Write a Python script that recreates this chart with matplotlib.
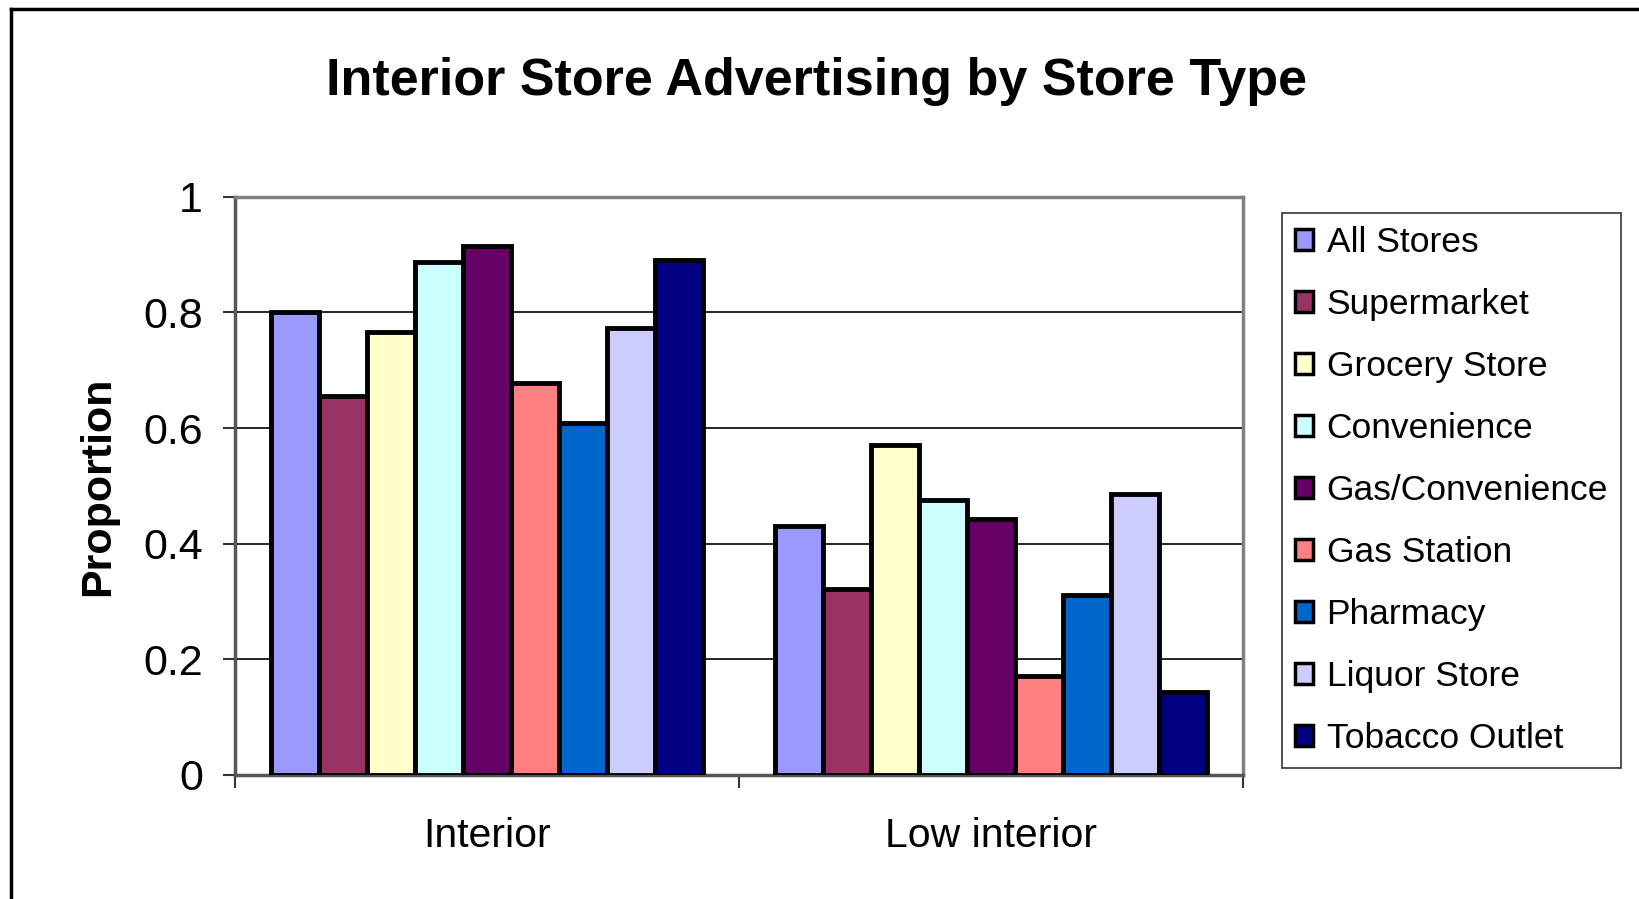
import matplotlib

matplotlib.use("Agg")

import matplotlib.pyplot as plt
from matplotlib.lines import Line2D
import numpy as np

plt.rcParams["font.family"] = ["Liberation Sans", "DejaVu Sans"]

categories = ["Interior", "Low interior"]
store_types = [
    "All Stores",
    "Supermarket",
    "Grocery Store",
    "Convenience",
    "Gas/Convenience",
    "Gas Station",
    "Pharmacy",
    "Liquor Store",
    "Tobacco Outlet",
]
interior = [0.80, 0.656, 0.767, 0.888, 0.915, 0.678, 0.609, 0.774, 0.891]
low_interior = [0.430, 0.322, 0.570, 0.476, 0.443, 0.172, 0.311, 0.486, 0.143]
colors = ["#9999FF", "#993366", "#FFFFCC", "#CCFFFF", "#660066",
          "#FF8080", "#0066CC", "#CCCCFF", "#000080"]
y_ticks = [0, 0.2, 0.4, 0.6, 0.8, 1.0]
y_tick_labels = ["0", "0.2", "0.4", "0.6", "0.8", "1"]

values = np.array([interior, low_interior])
n_series = len(store_types)
# bar width with a 150% gap between groups
width = 1.0 / (n_series + 1.5)
x = np.arange(len(categories))

fig = plt.figure(figsize=(16.4, 8.99), dpi=100)
ax = fig.add_axes([0.1433, 0.138, 0.6147, 0.643])

for i, (name, color) in enumerate(zip(store_types, colors)):
    offset = (i - (n_series - 1) / 2) * width
    ax.bar(x + offset, values[:, i], width, color=color, edgecolor="black",
           linewidth=3.5, label=name, zorder=3)

ax.set_xlim(-0.5, 1.5)
ax.set_ylim(0, 1)
ax.set_yticks(y_ticks)
ax.set_yticklabels(y_tick_labels, fontsize=31)
ax.yaxis.grid(True, color="black", linewidth=1.2, zorder=0)
ax.set_axisbelow(True)

ax.set_xticks([-0.5, 0.5, 1.5])
ax.set_xticklabels([])
ax.set_xticks(x, minor=True)
ax.set_xticklabels(categories, minor=True, fontsize=29.5)
ax.tick_params(axis="x", which="minor", length=0, pad=30)
ax.tick_params(axis="x", which="major", length=9, width=1.5, color="#333333")
ax.tick_params(axis="y", length=9, width=1.5, color="#333333", pad=14)

for side in ["top", "right"]:
    ax.spines[side].set_color("#808080")
    ax.spines[side].set_linewidth(2.5)
for side in ["left", "bottom"]:
    ax.spines[side].set_color("#555555")
    ax.spines[side].set_linewidth(2.5)

ax.set_ylabel("Proportion", fontsize=31, fontweight="bold")
ax.yaxis.set_label_coords(-0.116, 0.5)

fig.text(0.4976, 0.9095, "Interior Store Advertising by Store Type",
         ha="center", va="center", fontsize=37.5, fontweight="bold")

handles = [
    plt.Rectangle((0, 0), 1, 1, facecolor=c, edgecolor="black", linewidth=2.5)
    for c in colors
]
leg = fig.legend(handles, store_types, loc="upper left",
                 bbox_to_anchor=(0.7817, 0.763), fontsize=25.5, frameon=True,
                 fancybox=False, edgecolor="black", handlelength=0.52,
                 handleheight=0.52, handletextpad=0.38, labelspacing=0.82,
                 borderpad=0.36, borderaxespad=0)
leg.get_frame().set_linewidth(1.2)

# outer chart frame (top and left edges fall inside the canvas)
fig.add_artist(Line2D([0.0070, 0.0070], [0.0, 0.9905], color="black",
                      linewidth=2.5, transform=fig.transFigure))
fig.add_artist(Line2D([0.0070, 1.0], [0.9905, 0.9905], color="black",
                      linewidth=2.5, transform=fig.transFigure))

fig.savefig("out.png", dpi=100)
plt.close(fig)
